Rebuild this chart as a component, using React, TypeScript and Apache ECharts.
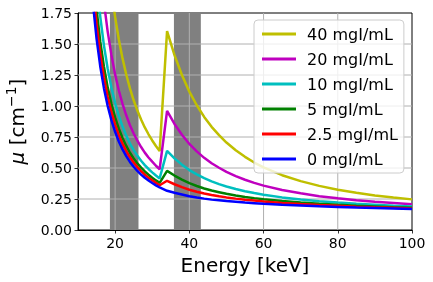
import React, { useEffect, useRef } from "react";
import * as echarts from "echarts";

const energies = [13, 14, 15, 16, 17, 18, 19, 20, 21, 22, 23, 24, 25, 26, 27, 28, 29, 30, 31, 32, 34, 36, 38, 40, 42, 44, 46, 48, 50, 52.5, 55, 57.5, 60, 65, 70, 75, 80, 85, 90, 95, 100];

const mu40 = [4.882, 4.055, 3.42, 2.919, 2.522, 2.2, 1.938, 1.719, 1.536, 1.384, 1.254, 1.142, 1.046, 0.963, 0.891, 0.827, 0.772, 0.722, 0.677, 0.636, 1.604, 1.41, 1.25, 1.116, 1.006, 0.912, 0.832, 0.765, 0.705, 0.643, 0.59, 0.544, 0.505, 0.442, 0.394, 0.356, 0.325, 0.3, 0.279, 0.262, 0.247];
const mu20 = [3.55, 2.945, 2.482, 2.119, 1.832, 1.6, 1.412, 1.255, 1.125, 1.017, 0.925, 0.845, 0.778, 0.72, 0.669, 0.624, 0.585, 0.551, 0.518, 0.49, 0.96, 0.855, 0.768, 0.694, 0.634, 0.582, 0.538, 0.502, 0.469, 0.435, 0.405, 0.38, 0.358, 0.322, 0.296, 0.273, 0.256, 0.24, 0.228, 0.218, 0.208];
const mu10 = [2.884, 2.39, 2.013, 1.719, 1.487, 1.3, 1.149, 1.024, 0.92, 0.834, 0.761, 0.697, 0.644, 0.598, 0.558, 0.523, 0.492, 0.465, 0.439, 0.416, 0.638, 0.578, 0.527, 0.483, 0.448, 0.418, 0.392, 0.37, 0.351, 0.331, 0.313, 0.298, 0.285, 0.263, 0.246, 0.232, 0.221, 0.211, 0.203, 0.195, 0.189];
const mu5 = [2.551, 2.113, 1.779, 1.519, 1.315, 1.15, 1.018, 0.908, 0.817, 0.742, 0.678, 0.623, 0.577, 0.537, 0.503, 0.472, 0.446, 0.422, 0.4, 0.38, 0.477, 0.439, 0.407, 0.378, 0.355, 0.335, 0.318, 0.305, 0.292, 0.279, 0.267, 0.257, 0.248, 0.233, 0.222, 0.212, 0.203, 0.196, 0.19, 0.184, 0.179];
const mu2_5 = [2.385, 1.974, 1.661, 1.419, 1.228, 1.075, 0.952, 0.85, 0.765, 0.696, 0.637, 0.586, 0.544, 0.507, 0.475, 0.446, 0.422, 0.401, 0.38, 0.361, 0.397, 0.369, 0.346, 0.325, 0.309, 0.294, 0.282, 0.272, 0.263, 0.253, 0.244, 0.237, 0.229, 0.218, 0.209, 0.201, 0.195, 0.188, 0.183, 0.179, 0.174];
const mu0 = [2.218, 1.835, 1.544, 1.319, 1.142, 1.0, 0.886, 0.792, 0.714, 0.65, 0.596, 0.549, 0.51, 0.476, 0.447, 0.421, 0.399, 0.379, 0.36, 0.343, 0.316, 0.3, 0.286, 0.272, 0.262, 0.253, 0.245, 0.239, 0.233, 0.227, 0.221, 0.216, 0.211, 0.203, 0.197, 0.191, 0.186, 0.181, 0.177, 0.173, 0.169];

const seriesNames = ["40 mgI/mL", "20 mgI/mL", "10 mgI/mL", "5 mgI/mL", "2.5 mgI/mL", "0 mgI/mL"];
const seriesValues = [mu40, mu20, mu10, mu5, mu2_5, mu0];
const seriesColors = ["#bfbf00", "#bf00bf", "#00bfbf", "#008000", "#ff0000", "#0000ff"];

const bandStarts = [18.6, 35.85];
const bandEnds = [26.3, 43.1];

const X_MIN = 10;
const X_MAX = 100;
const Y_MIN = 0;
const Y_MAX = 1.75;
const xTicks = [20, 40, 60, 80, 100];
const xGridValues = [20, 40, 60, 80];
const yGridValues = [0.25, 0.5, 0.75, 1.0, 1.25, 1.5];

const GRID_COLOR = "#b0b0b0";

export default function App() {
  const ref = useRef<HTMLDivElement>(null);
  useEffect(() => {
    if (!ref.current) return;
    const chart = echarts.init(ref.current, null, { renderer: "svg" });
    const lines = seriesNames.map((name, i) => ({
      name,
      type: "line",
      z: 5,
      symbol: "none",
      data: energies.map((e, j) => [e, seriesValues[i][j]]),
      lineStyle: { color: seriesColors[i], width: 2.5 },
      itemStyle: { color: seriesColors[i] },
      clip: true,
    }));
    const gridSeries = [
      ...xGridValues.map((v) => ({
        type: "line",
        name: "vgrid" + v,
        z: 3,
        silent: true,
        symbol: "none",
        data: [[v, Y_MIN], [v, Y_MAX]],
        lineStyle: { color: GRID_COLOR, width: 1 },
        itemStyle: { color: GRID_COLOR },
      })),
      ...yGridValues.map((v) => ({
        type: "line",
        name: "hgrid" + v,
        z: 3,
        silent: true,
        symbol: "none",
        data: [[X_MIN, v], [X_MAX, v]],
        lineStyle: { color: GRID_COLOR, width: 1 },
        itemStyle: { color: GRID_COLOR },
      })),
    ];
    const bands = {
      type: "custom",
      z: 1,
      silent: true,
      data: bandStarts.map((s, i) => [s, bandEnds[i]]),
      encode: { x: [0, 1] },
      renderItem: (params: any, api: any) => {
        const x0 = api.coord([api.value(0), 0])[0];
        const x1 = api.coord([api.value(1), 0])[0];
        const cs = params.coordSys;
        return {
          type: "rect",
          shape: { x: x0, y: cs.y, width: x1 - x0, height: cs.height },
          style: { fill: "#808080" },
        };
      },
    };
    chart.setOption({
      animation: false,
      textStyle: { fontFamily: "DejaVu Sans", color: "#000" },
      grid: {
        left: 78,
        right: 21,
        top: 13,
        bottom: 52,
        containLabel: false,
        outerBoundsMode: "none",
        show: true,
        borderColor: "#000",
        borderWidth: 1,
        backgroundColor: "rgba(0,0,0,0)",
      },
      legend: {
        orient: "vertical",
        left: 254,
        top: 20,
        padding: [6, 6, 6, 8],
        itemGap: 9,
        itemWidth: 34,
        itemHeight: 3,
        icon: "rect",
        backgroundColor: "rgba(255,255,255,0.8)",
        borderColor: "#cccccc",
        borderWidth: 1,
        borderRadius: 4,
        z: 10,
        textStyle: { fontSize: 16, lineHeight: 14, color: "#000", fontFamily: "DejaVu Sans", padding: [0, 0, 0, 6] },
        data: seriesNames,
      },
      xAxis: {
        type: "value",
        min: X_MIN,
        max: X_MAX,
        name: "Energy [keV]",
        nameLocation: "middle",
        nameGap: 24,
        nameTextStyle: { fontSize: 20, color: "#000", fontFamily: "DejaVu Sans" },
        axisLine: { show: true, lineStyle: { color: "#000", width: 1 } },
        axisTick: { show: true, length: 3.5, lineStyle: { color: "#000", width: 0.8 }, customValues: xTicks },
        axisLabel: { fontSize: 14, color: "#000", margin: 6, customValues: xTicks },
        splitLine: { show: false },
      },
      yAxis: {
        type: "value",
        min: Y_MIN,
        max: Y_MAX,
        interval: 0.25,
        name: "{m|μ} [cm{s|−1}]",
        nameLocation: "middle",
        nameRotate: 90,
        nameGap: 47,
        nameTextStyle: {
          fontSize: 20,
          lineHeight: 26,
          color: "#000",
          fontFamily: "DejaVu Sans",
          rich: {
            m: { fontSize: 20, lineHeight: 26, fontStyle: "italic", fontFamily: "DejaVu Sans", color: "#000" },
            s: { fontSize: 14, lineHeight: 14, verticalAlign: "top", fontFamily: "DejaVu Sans", color: "#000" },
          },
        },
        axisLine: { show: true, lineStyle: { color: "#000", width: 1 } },
        axisTick: { show: true, length: 3.5, lineStyle: { color: "#000", width: 0.8 } },
        axisLabel: { fontSize: 14, color: "#000", margin: 6, formatter: (v: number) => v.toFixed(2) },
        splitLine: { show: false },
      },
      series: [bands, ...gridSeries, ...lines],
    });
    return () => chart.dispose();
  }, []);
  return <div ref={ref} style={{ position: "fixed", left: 0, top: 0, width: 433, height: 282 }} />;
}
